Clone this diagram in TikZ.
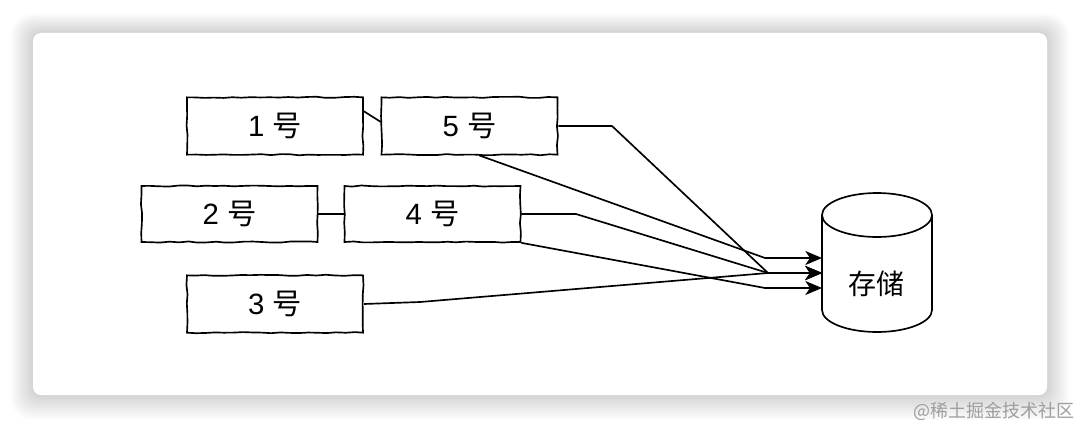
\documentclass[tikz,border=0pt]{standalone}
\usepackage{fontspec}
\setmainfont{Liberation Sans}
\newfontfamily\cjk{Noto Sans CJK SC}
\usetikzlibrary{calc,arrows.meta,decorations.pathmorphing}
\tikzset{
  box/.style={draw, line width=1.25pt, minimum width=132pt, minimum height=43pt,
    inner sep=0pt, font=\fontsize{22}{25}\selectfont,
    decorate, decoration={random steps, segment length=7pt, amplitude=0.45pt}},
  link/.style={line width=1.25pt, line join=round},
  arr/.style={link, -{Stealth[length=12.5pt, width=10.5pt, inset=3.5pt]}},
  wm/.style={font=\cjk\fontsize{13.5}{15}\selectfont, text=black!38, anchor=east, inner sep=0pt}
}
\begin{document}
\begin{tikzpicture}[x=0.75pt, y=-0.75pt]
\useasboundingbox (0,0) rectangle (1080,428);
\fill[white] (0,0) rectangle (1080,428);
% shadow
\foreach \e in {1,2,...,14} {
  \fill[black, opacity=0.011, rounded corners={(8+\e)*0.75pt}]
    (33-1.6*\e, 33-1.4*\e) rectangle (1047+1.6*\e, 395+1.8*\e);
}
\fill[white, rounded corners=6pt] (33,33) rectangle (1047,395);

% boxes
\node[box] (n1) at (275,126) {1 {\cjk 号}};
\node[box] (n5) at (469.5,126) {5 {\cjk 号}};
\node[box, minimum height=42pt] (n2) at (229.5,214) {2 {\cjk 号}};
\node[box, minimum height=42pt] (n4) at (432.5,214) {4 {\cjk 号}};
\node[box] (n3) at (275,304) {3 {\cjk 号}};

% storage cylinder
\node[minimum width=82.5pt, minimum height=104pt, inner sep=0pt] (db) at (877,262.5) {};
\draw[line width=1.25pt] (822,215) -- (822,310)
  arc[start angle=180, end angle=360, x radius=41.25pt, y radius=16.5pt]
  -- (932,215);
\draw[line width=1.25pt] (877,215) ellipse[x radius=41.25pt, y radius=16.5pt];
\node[font=\cjk\fontsize{21}{24}\selectfont] (dbl) at (876,284) {存储};

\coordinate (a1) at (822,258);
\coordinate (a2) at (822,273);
\coordinate (a3) at (822,288);

% connectors
\draw[link] ($(n1.north east)!0.25!(n1.south east)$) -- ($(n5.north west)!0.43!(n5.south west)$);
\draw[link] (n2.east) -- (n4.west);
\draw[arr] (n5.east) -- (612,126) -- (768,273) -- (a2);
\draw[arr] ($(n5.south)+(10,0)$) -- (765,258) -- (a1);
\draw[arr] (n4.east) -- (576,214) -- (768,273) -- (a2);
\draw[arr] (n4.south east) -- (765,288) -- (a3);
\draw[arr] (n3.east) -- (420,302) -- (768,273) -- (a2);

% watermark
\node[wm] (wm) at (1075,411) {@稀土掘金技术社区};
\end{tikzpicture}
\end{document}
